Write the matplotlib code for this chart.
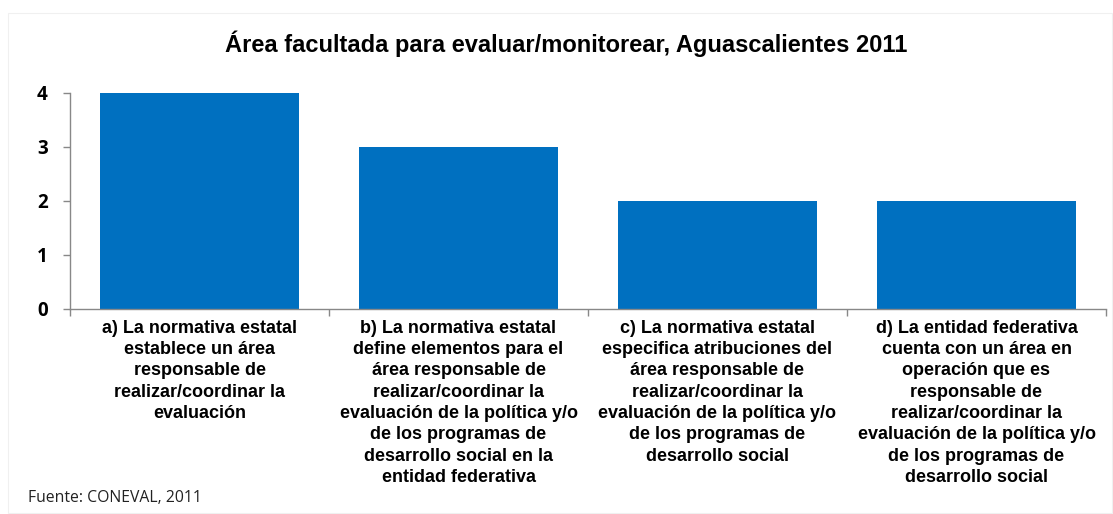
#!/usr/bin/env python3
"""Área facultada para evaluar/monitorear, Aguascalientes 2011 - bar chart."""

import numpy as np
import matplotlib
matplotlib.use("Agg")
import matplotlib.pyplot as plt
from matplotlib.patches import Rectangle

# data
categories = [
    "a) La normativa estatal\nestablece un área\nresponsable de\nrealizar/coordinar la\nevaluación",
    "b) La normativa estatal\ndefine elementos para el\nárea responsable de\nrealizar/coordinar la\nevaluación de la política y/o\nde los programas de\ndesarrollo social en la\nentidad federativa",
    "c) La normativa estatal\nespecifica atribuciones del\nárea responsable de\nrealizar/coordinar la\nevaluación de la política y/o\nde los programas de\ndesarrollo social",
    "d) La entidad federativa\ncuenta con un área en\noperación que es\nresponsable de\nrealizar/coordinar la\nevaluación de la política y/o\nde los programas de\ndesarrollo social",
]
values = [4, 3, 2, 2]
yticks = [0, 1, 2, 3, 4]

title = "Área facultada para evaluar/monitorear, Aguascalientes 2011"
source = "Fuente: CONEVAL, 2011"

BAR_COLOR = "#0070C0"
AXIS_COLOR = "#888888"

fig = plt.figure(figsize=(11.13, 5.14), dpi=100)

# faint chart border
fig.patches.append(Rectangle((8 / 1113, 0.002), 1 - 9 / 1113, 1 - 14 / 514,
                             transform=fig.transFigure, fill=False,
                             edgecolor="#f0f0f0", linewidth=0.8))

ax = fig.add_axes([70 / 1113, 205 / 514, 1036 / 1113, 216 / 514])

xs = np.arange(len(values))
ax.bar(xs, values, width=0.77, color=BAR_COLOR, zorder=2)

ax.set_xlim(-0.5, len(values) - 0.5)
ax.set_ylim(0, 4)
ax.set_yticks(yticks)
ax.set_yticklabels([str(v) for v in yticks], fontsize=13.5, fontweight="bold",
                   family="Open Sans")

# tick marks at category boundaries, labels centred under bars
ax.set_xticks(np.arange(-0.5, len(values)))
ax.set_xticklabels([])
ax.tick_params(axis="x", direction="out", length=5, color=AXIS_COLOR, width=1)
ax.tick_params(axis="y", direction="out", length=5, color=AXIS_COLOR,
               width=1, pad=11)
for i, lab in enumerate(categories):
    ax.text(xs[i], -0.2, lab, ha="center", va="top", fontsize=13,
            fontweight="bold", family="Liberation Sans", linespacing=1.33)

for side in ["top", "right"]:
    ax.spines[side].set_visible(False)
for side in ["left", "bottom"]:
    ax.spines[side].set_color(AXIS_COLOR)
    ax.spines[side].set_linewidth(1)

fig.text(566 / 1113, 1 - 44 / 514, title, ha="center", va="center",
         fontsize=17, fontweight="bold", family="Liberation Sans")
fig.text(28 / 1113, 1 - 498 / 514, source, ha="left", va="center",
         fontsize=11.3, family="Open Sans", color="#222222")

fig.savefig("out.png", dpi=100)
